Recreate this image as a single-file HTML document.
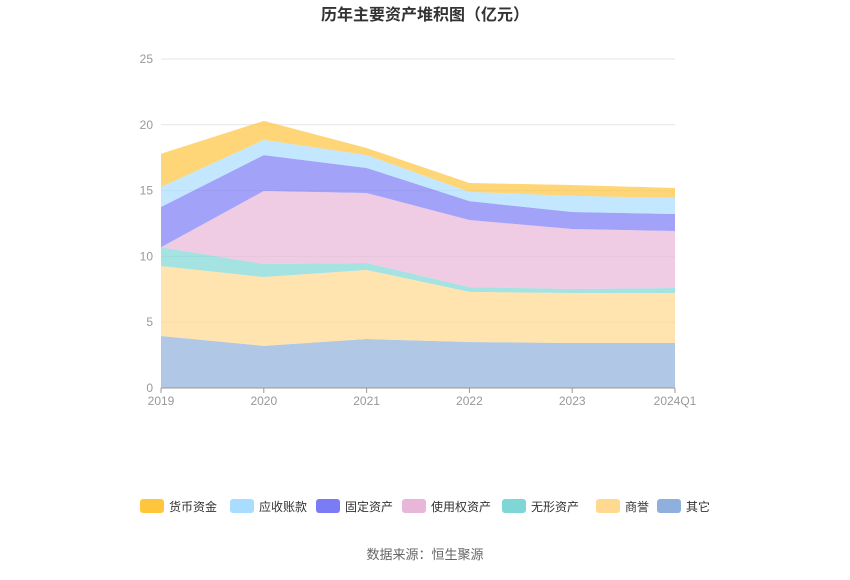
<!DOCTYPE html>
<html><head><meta charset="utf-8"><style>
body{margin:0;background:#fff;font-family:"Liberation Sans","Noto Sans CJK SC",sans-serif;}
svg text{font-family:"Liberation Sans","Noto Sans CJK SC",sans-serif;}
</style></head><body>
<svg id="c" width="850" height="575">
<text x="425" y="20" text-anchor="middle" font-size="16" font-weight="bold" fill="#333">历年主要资产堆积图（亿元）</text>
<text x="425" y="559" text-anchor="middle" font-size="13" fill="#666">数据来源：恒生聚源</text>
<g id="grid"></g><g id="areas"></g><g id="axes"></g><g id="legend"></g>
</svg>
<script>
const categories=["2019","2020","2021","2022","2023","2024Q1"];
const seriesNames=["其它","商誉","无形资产","使用权资产","固定资产","应收账款","货币资金"];
const other=[3.95,3.2,3.72,3.5,3.42,3.42];
const goodwill=[5.32,5.23,5.25,3.8,3.8,3.8];
const intangible=[1.43,0.99,0.53,0.37,0.3,0.38];
const rightOfUse=[0,5.55,5.32,5.1,4.56,4.33];
const fixedAssets=[3.05,2.73,1.9,1.43,1.29,1.29];
const receivables=[1.52,1.15,0.98,0.7,1.23,1.22];
const cash=[2.53,1.45,0.54,0.68,0.83,0.76];
const yTicks=[0,5,10,15,20,25];
const series=[other,goodwill,intangible,rightOfUse,fixedAssets,receivables,cash];
const colors=["#8fb0dc","#ffd98f","#7fd6d6","#e8b6d8","#7b7bf5","#a8ddff","#ffc53d"];
const ns="http://www.w3.org/2000/svg";
const X0=161,X1=675,Y0=388,Y1=59;
const xs=i=>X0+(X1-X0)*i/(categories.length-1);
const ys=v=>Y0-(Y0-Y1)*v/25;
function mk(t,a,p){const e=document.createElementNS(ns,t);for(const k in a)e.setAttribute(k,a[k]);p.appendChild(e);return e;}
const grid=document.getElementById('grid'),axes=document.getElementById('axes'),areas=document.getElementById('areas'),legend=document.getElementById('legend');
yTicks.forEach(t=>{
 if(t>0){const l=mk('line',{x1:X0,x2:X1,y1:ys(t),y2:ys(t),stroke:'#e6e6e6'},grid);
 
 }
 const tx=mk('text',{x:153,y:ys(t)+4,'text-anchor':'end','font-size':12,fill:'#999'},axes);
 tx.textContent=t;
 
 
});
let base=categories.map(()=>0);
series.forEach((s,k)=>{
 const top=base.map((b,i)=>b+s[i]);
 let d='M'+top.map((v,i)=>xs(i)+','+ys(v)).join('L');
 for(let i=base.length-1;i>=0;i--)d+='L'+xs(i)+','+ys(base[i]);
 const p=mk('path',{d:d+'Z',fill:colors[k],'fill-opacity':0.7},areas);
 
 
 base=top;
});
const ax=mk('line',{x1:X0,x2:X1,y1:Y0,y2:Y0,stroke:'#999'},axes);


categories.forEach((c,i)=>{
 mk('line',{x1:xs(i),x2:xs(i),y1:Y0,y2:Y0+5,stroke:'#999'},axes);
 const t=mk('text',{x:xs(i),y:405,'text-anchor':'middle','font-size':12,fill:'#999'},axes);
 t.textContent=c;
 
 
});
const legX=[140,230,316,402,502,596,657];
const legOrder=[6,5,4,3,2,1,0];
legOrder.forEach((k,j)=>{
 const g=mk('g',{},legend);
 
 
 mk('rect',{x:legX[j],y:499,width:24,height:14,rx:3,fill:colors[k]},g);
 const t=mk('text',{x:legX[j]+29,y:511,'font-size':12,fill:'#333'},g);
 t.textContent=seriesNames[k];
});
</script>
</body></html>
